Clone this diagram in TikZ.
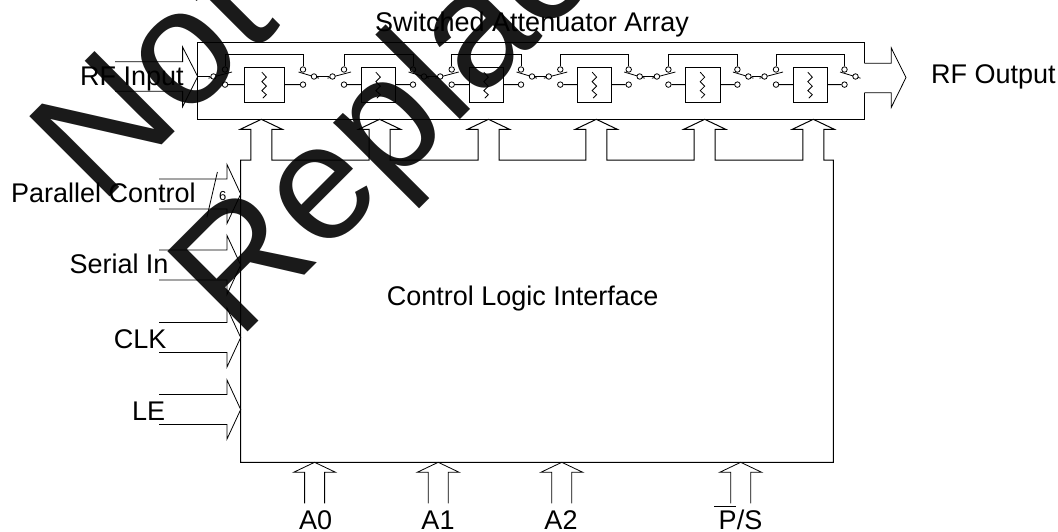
\documentclass[tikz,border=0pt]{standalone}
\usepackage{fontspec}
\setmainfont{Liberation Sans}
\definecolor{markcolor}{HTML}{1A1A1A}
\tikzset{
    wire/.style={line width=1pt, line join=miter},
    thinwire/.style={line width=0.8pt, line join=miter},
    caption/.style={anchor=base west, inner sep=0pt, font=\fontsize{27}{30}\selectfont},
    stamp/.style={anchor=base west, inner sep=0pt, rotate=45, text=markcolor, font=\fontsize{165}{170}\selectfont},
    contact/.style={circle, draw, line width=0.8pt, fill=white, inner sep=0pt, minimum size=5.5pt},
    pad/.style={draw, line width=1pt, inner sep=0pt, outer sep=0pt, minimum height=34.7pt}
}
\begin{document}
\begin{tikzpicture}[x=1pt, y=-1pt]
    \useasboundingbox (0,0) rectangle (1058,531);

    % Frame of the attenuator array
    \draw[wire] (864.3,63.3) -- (864.3,42) -- (197.7,42) -- (197.7,119.3) -- (864.3,119.3) -- (864.3,92.7);

    % RF input and output block arrows
    \coordinate (rftip) at (197.7,76.5);
    \draw[thinwire] (115,61.8) -- (182.6,61.8) -- (182.6,47) -- (rftip) -- (182.6,106.7) -- (182.6,91.2) -- (115,91.2);
    \draw[thinwire] (864.3,63.3) -- (891.3,63.3) -- (891.3,48) -- (906,77.5) -- (891.3,107.3) -- (891.3,92.7) -- (864.3,92.7);

    % Attenuator stages with their bypass switches
    \foreach \i/\cl/\cr/\bl/\br in {1/225/303/244/284.7, 2/344/413/361/395.7, 3/451.7/521/469.3/503.3, 4/560.3/628.7/577.5/611.8, 5/668.4/737.4/685.2/720.2, 6/776/844.5/793/827.6} {
        % switch arms
        \draw[thinwire] ({\cl-16.5},78.2) -- ({\cl+7},72);
        \draw[thinwire] ({\cr-4.5},72) -- ({\cr+16},78.2);
        % contacts and poles
        \node[contact] (upl\i) at (\cl,69.5) {};
        \node[contact] (lol\i) at (\cl,84.6) {};
        \node[contact] (upr\i) at (\cr,69.5) {};
        \node[contact] (lor\i) at (\cr,84.6) {};
        \node[contact] (pol\i) at ({\cl-11.5},76.5) {};
        \node[contact] (por\i) at ({\cr+11},76.5) {};
        % resistor box
        \node[pad, minimum width={(\br-\bl)*1pt}] (pad\i) at ({(\bl+\br)/2},84.65) {};
        \draw[thinwire] (pad\i.center) ++(-2.5,-12.5) -- ++(4.5,5) -- ++(-4.5,4.5) -- ++(4.5,4.5) -- ++(-4.5,4.5) -- ++(4.5,4) -- ++(-3.5,3.5);
        % wires
        \draw[wire] (lol\i) -- (pad\i);
        \draw[wire] (pad\i) -- (lor\i);
        \draw[wire] (upl\i) -- (upl\i |- 0,54.7) -- (upr\i |- 0,54.7) -- (upr\i);
    }
    \draw[wire] (rftip) -- (pol1);
    \foreach \i/\j in {1/2, 2/3, 3/4, 4/5, 5/6} {
        \draw[wire] (por\i) -- (pol\j);
    }

    % Control logic outline, its top side carries the six arrows
    \draw[wire] (240.7,462.3) -- (240.7,160)
        foreach \x in {261.3,379.6,488.5,596.3,704.7,813.3} {
            -- ({\x-10.5},160) -- ({\x-10.5},129.3) -- ({\x-21},129.3) -- (\x,119.3)
            -- ({\x+21},129.3) -- ({\x+10.5},129.3) -- ({\x+10.5},160)
        }
        -- (833.3,160) -- (833.3,462.3) -- cycle;

    % Block arrows on the left side
    \foreach \yc in {194,265,337.5,409.5} {
        \draw[thinwire] (159,{\yc-15}) -- (227,{\yc-15}) -- (227,{\yc-29.5}) -- (240.7,\yc)
            -- (227,{\yc+29.5}) -- (227,{\yc+15}) -- (159,{\yc+15});
    }
    % Bus mark
    \draw[thinwire] (217.4,172) -- (206.9,217.3);

    % Block arrows on the bottom side
    \foreach \x in {314.6,438.2,561.8,740.7} {
        \draw[thinwire] ({\x-10},503.3) -- ({\x-10},472.3) -- ({\x-21},472.3) -- (\x,462.3)
            -- ({\x+21},472.3) -- ({\x+10},472.3) -- ({\x+10},503.3);
    }
    % Bar over the P
    \draw[thinwire] (714,506.3) -- (736,506.3);

    % Labels
    \node[caption] (titlelabel) at (375,31) {Switched Attenuator Array};
    \node[caption] (rfinlabel) at (80,85.7) {RF Input};
    \node[caption] (rfoutlabel) at (931,83.3) {RF Output};
    \node[caption] (parlabel) at (11,202.3) {Parallel Control};
    \node[caption] (serlabel) at (69.3,273) {Serial In};
    \node[caption] (clklabel) at (113.7,348.3) {CLK};
    \node[caption] (lelabel) at (132,420) {LE};
    \node[caption] (logiclabel) at (386.7,305.7) {Control Logic Interface};
    \node[anchor=center, inner sep=0pt, font=\fontsize{13}{15}\selectfont] (buslabel) at (222.7,196) {6};
    \node[caption, anchor=base] (azerolabel) at (315.7,529) {A0};
    \node[caption, anchor=base] (aonelabel) at (438,529) {A1};
    \node[caption, anchor=base] (atwolabel) at (561,529) {A2};
    \node[caption, anchor=base] (pslabel) at (740.5,529) {P/S};

    % Large rotated lettering over the drawing
    \begin{scope}[blend mode=multiply]
        \clip (0,0) rectangle (1058,531);
        \node[stamp] (notmark) at (100,207) {Not};
        \node[stamp] (replacedmark) at (238,342) {Replaced};
    \end{scope}
\end{tikzpicture}
\end{document}
